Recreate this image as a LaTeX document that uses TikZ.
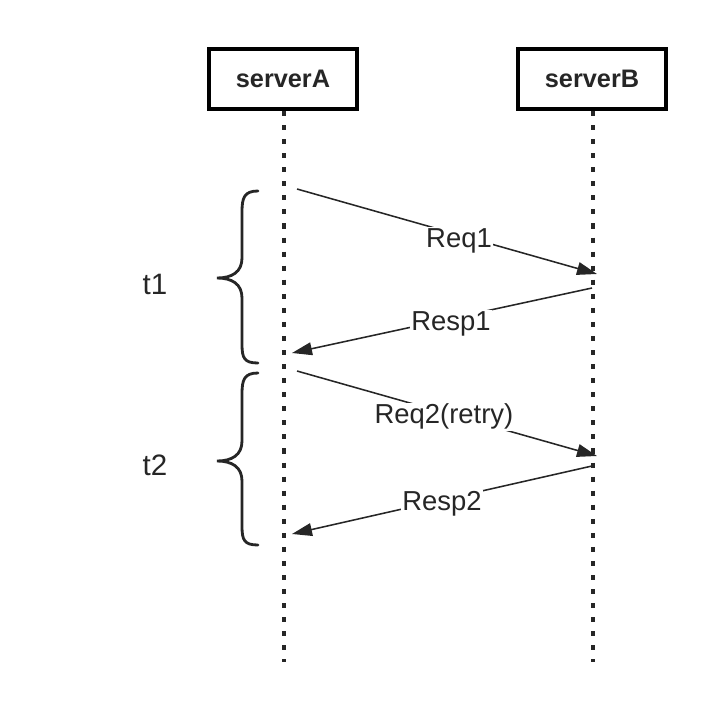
\documentclass[tikz,border=0pt]{standalone}
\usepackage{fontspec}
\setmainfont{Liberation Sans}
\usetikzlibrary{arrows.meta, positioning, calc}

\begin{document}
\begin{tikzpicture}[x=0.025cm, y=-0.025cm,
    server/.style={draw, line width=2.8pt, minimum width=3.7cm, minimum height=1.5cm, font=\fontsize{18}{20}\selectfont\bfseries, text=black!85},
    lifeline/.style={line width=2.6pt, dash pattern=on 3.6pt off 6.4pt, black!85},
    msg/.style={-{Triangle[length=0.5cm, width=0.32cm]}, line width=1.1pt, black!85},
    msglabel/.style={fill=white, inner sep=1pt, font=\fontsize{19.5}{22}\selectfont, text=black!85},
    bracket/.style={line width=2pt, black!85, line cap=round},
    period/.style={font=\fontsize{21}{24}\selectfont, text=black!85}]
                \useasboundingbox (0,0) rectangle (717,716);

                % participants
                \node[server] (serverA) at (283,79) {serverA};
                \node[server] (serverB) at (592,79) {serverB};
                \coordinate (endA) at (284,662);
                \coordinate (endB) at (593,662);
                \draw[lifeline] (serverA.south -| endA) -- (endA);
                \draw[lifeline] (serverB.south -| endB) -- (endB);

                % message ends
                \coordinate (req1a) at (297,189);
                \coordinate (req1b) at (597,274);
                \coordinate (resp1b) at (592,288);
                \coordinate (resp1a) at (292,353);
                \coordinate (req2a) at (297,371);
                \coordinate (req2b) at (597,456);
                \coordinate (resp2b) at (592,466);
                \coordinate (resp2a) at (292,534);

                \draw[msg] (req1a) -- node[msglabel, pos=0.54, yshift=-4pt] (lreq1) {Req1} (req1b);
                \draw[msg] (resp1b) -- node[msglabel, pos=0.47, yshift=-4pt] (lresp1) {Resp1} (resp1a);
                \draw[msg] (req2a) -- node[msglabel, pos=0.49, yshift=-3pt] (lreq2) {Req2(retry)} (req2b);
                \draw[msg] (resp2b) -- node[msglabel, pos=0.5, yshift=-3pt] (lresp2) {Resp2} (resp2a);

                % time spans
                \draw[bracket] (258,191) .. controls (244,191) and (242,198) .. (242,212)
                    -- (242,258) .. controls (242,272) and (232,278) .. (217,278)
                    .. controls (232,278) and (242,284) .. (242,298)
                    -- (242,344) .. controls (242,358) and (244,363) .. (258,363);
                \draw[bracket] (258,373) .. controls (244,373) and (242,380) .. (242,394)
                    -- (242,441) .. controls (242,455) and (232,461) .. (217,461)
                    .. controls (232,461) and (242,467) .. (242,481)
                    -- (242,526) .. controls (242,540) and (244,545) .. (258,545);

                \node[period] (t1) at (155,284) {t1};
                \node[period] (t2) at (155,465) {t2};
            \end{tikzpicture}
\end{document}
